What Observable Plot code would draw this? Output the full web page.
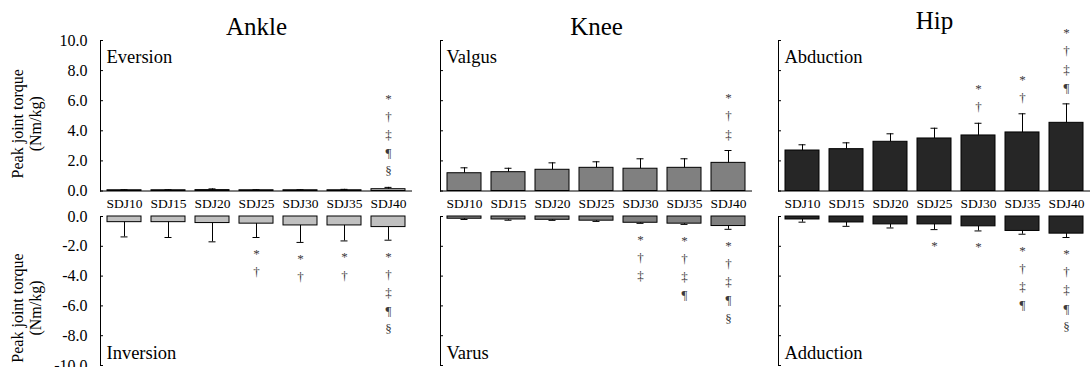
<!DOCTYPE html>
<html>
<head>
<meta charset="utf-8">
<script src="https://cdn.jsdelivr.net/npm/d3@7"></script>
<script src="https://cdn.jsdelivr.net/npm/@observablehq/plot@0.6"></script>
<style>
  html, body { margin: 0; padding: 0; background: #fff; overflow: hidden; }
  #chart { position: relative; width: 1091px; height: 367px; overflow: hidden; background: #fff; }
  #chart svg { position: absolute; }
  #chart svg text { font-family: "Liberation Serif", "Times New Roman", serif !important; font-variant: normal !important; }
</style>
</head>
<body>
<div id="chart"></div>
<script>
// Jump conditions (drop height in cm)
const categories = ["SDJ10", "SDJ15", "SDJ20", "SDJ25", "SDJ30", "SDJ35", "SDJ40"];

// Peak joint torque (Nm/kg): mean and SD per condition
const ankleEversionMean  = [0.05, 0.05, 0.06, 0.05, 0.05, 0.05, 0.12];
const ankleEversionSD    = [0.03, 0.03, 0.08, 0.03, 0.03, 0.06, 0.12];
const ankleInversionMean = [-0.38, -0.38, -0.44, -0.48, -0.60, -0.60, -0.71];
const ankleInversionSD   = [0.99, 1.03, 1.26, 0.93, 1.14, 1.04, 0.88];

const kneeValgusMean = [1.18, 1.25, 1.41, 1.54, 1.48, 1.54, 1.87];
const kneeValgusSD   = [0.36, 0.26, 0.46, 0.40, 0.66, 0.60, 0.82];
const kneeVarusMean  = [-0.15, -0.20, -0.22, -0.28, -0.42, -0.48, -0.64];
const kneeVarusSD    = [0.05, 0.05, 0.04, 0.05, 0.04, 0.05, 0.22];

const hipAbductionMean = [2.69, 2.78, 3.27, 3.49, 3.69, 3.89, 4.53];
const hipAbductionSD   = [0.38, 0.42, 0.53, 0.68, 0.81, 1.24, 1.26];
const hipAdductionMean = [-0.20, -0.40, -0.53, -0.53, -0.66, -0.97, -1.15];
const hipAdductionSD   = [0.18, 0.26, 0.24, 0.35, 0.31, 0.22, 0.26];

// Significance markers per condition (one symbol per line)
const ankleEversionSig  = ["", "", "", "", "", "", "*†‡¶§"];
const ankleInversionSig = ["", "", "", "*†", "*†", "*†", "*†‡¶§"];
const kneeValgusSig     = ["", "", "", "", "", "", "*†‡"];
const kneeVarusSig      = ["", "", "", "", "*†‡", "*†‡¶", "*†‡¶§"];
const hipAbductionSig   = ["", "", "", "", "*†", "*†", "*†‡¶"];
const hipAdductionSig   = ["", "", "", "*", "*", "*†‡¶", "*†‡¶§"];

// Axis ticks
const positiveTicks = [0, 2, 4, 6, 8, 10];
const negativeTicks = [0, -2, -4, -6, -8, -10];

const yAxisTitle = "Peak joint torque\n(Nm/kg)";
const serif = "'Liberation Serif', 'Times New Roman', serif";

function panel({means, sds, sig, fill, title, label, side, showTickLabels, titleOffset, left}) {
  const top = side === "top";
  const ticks = top ? positiveTicks : negativeTicks;
  const rows = categories.map((cat, i) => ({
    cat,
    mean: means[i],
    end: top ? means[i] + sds[i] : means[i] - sds[i],
    sig: [...sig[i]].join("\n")
  }));
  const marks = [
    // left axis line with short inward ticks
    Plot.frame({anchor: "left", stroke: "black"}),
    Plot.axisY({ticks, tickSize: -3, tickFormat: () => "", label: null}),
    Plot.barY(rows, {x: "cat", y: "mean", fill, stroke: "black", strokeWidth: 1}),
    // one-sided SD whiskers with caps
    Plot.ruleX(rows, {x: "cat", y1: "mean", y2: "end", stroke: "black", strokeWidth: 1}),
    Plot.tickY(rows, {x: "cat", y: "end", stroke: "black", strokeWidth: 1, insetLeft: 13.5, insetRight: 13.5}),
    // stacked significance symbols beyond each whisker
    Plot.text(rows.filter(d => d.sig), {
      x: "cat", y: "end", text: "sig",
      lineAnchor: top ? "bottom" : "top",
      dy: top ? -12 : 7.5,
      fontSize: 13, lineHeight: 1.4, fill: "#3a3a3a"
    }),
    // direction label inside the panel
    Plot.text([label], {
      frameAnchor: top ? "top-left" : "bottom-left",
      textAnchor: "start", lineAnchor: "middle",
      dx: 6, dy: top ? 16.4 : -12, fontSize: 18.5
    })
  ];
  if (showTickLabels) {
    marks.push(
      Plot.text(ticks, {
        y: d => d, text: d => d.toFixed(1), frameAnchor: "left",
        textAnchor: "end", lineAnchor: "middle", dx: -13, fontSize: 16
      }),
      Plot.text([yAxisTitle], {
        frameAnchor: "left", rotate: -90, textAnchor: "middle", lineAnchor: "middle",
        dx: -74, dy: top ? 8 : 17, fontSize: 16, lineHeight: 1.08
      })
    );
  }
  if (top) {
    marks.push(
      Plot.ruleY([0], {stroke: "black"}),
      Plot.text(categories, {x: d => d, frameAnchor: "bottom", lineAnchor: "top", dy: 7, fontSize: 13.5}),
      Plot.text([title], {frameAnchor: "top", lineAnchor: "middle", dy: titleOffset, fontSize: 25})
    );
  }
  const svg = Plot.plot({
    width: 412,
    height: top ? 215 : 173,
    marginLeft: 100,
    marginRight: 0,
    marginTop: top ? 40 : 10,
    marginBottom: top ? 24.5 : 14,
    style: {fontFamily: serif, fontSize: "16px", background: "transparent", overflow: "visible", color: "black"},
    x: {domain: categories, paddingInner: 0.22, paddingOuter: 0.11, axis: null},
    y: {domain: top ? [0, 10] : [-10, 0], axis: null},
    marks
  });
  svg.style.left = left + "px";
  svg.style.top = (top ? 0 : 206) + "px";
  return svg;
}

const chart = document.getElementById("chart");
const panels = [
  {means: ankleEversionMean, sds: ankleEversionSD, sig: ankleEversionSig, fill: "#c0c0c0",
   title: "Ankle", label: "Eversion", side: "top", showTickLabels: true, titleOffset: -13.5, left: 0},
  {means: ankleInversionMean, sds: ankleInversionSD, sig: ankleInversionSig, fill: "#c0c0c0",
   label: "Inversion", side: "bottom", showTickLabels: true, left: 0},
  {means: kneeValgusMean, sds: kneeValgusSD, sig: kneeValgusSig, fill: "#808080",
   title: "Knee", label: "Valgus", side: "top", showTickLabels: false, titleOffset: -14, left: 340},
  {means: kneeVarusMean, sds: kneeVarusSD, sig: kneeVarusSig, fill: "#808080",
   label: "Varus", side: "bottom", showTickLabels: false, left: 340},
  {means: hipAbductionMean, sds: hipAbductionSD, sig: hipAbductionSig, fill: "#262626",
   title: "Hip", label: "Abduction", side: "top", showTickLabels: false, titleOffset: -19.5, left: 678},
  {means: hipAdductionMean, sds: hipAdductionSD, sig: hipAdductionSig, fill: "#262626",
   label: "Adduction", side: "bottom", showTickLabels: false, left: 678}
];
for (const p of panels) chart.appendChild(panel(p));
</script>
</body>
</html>
